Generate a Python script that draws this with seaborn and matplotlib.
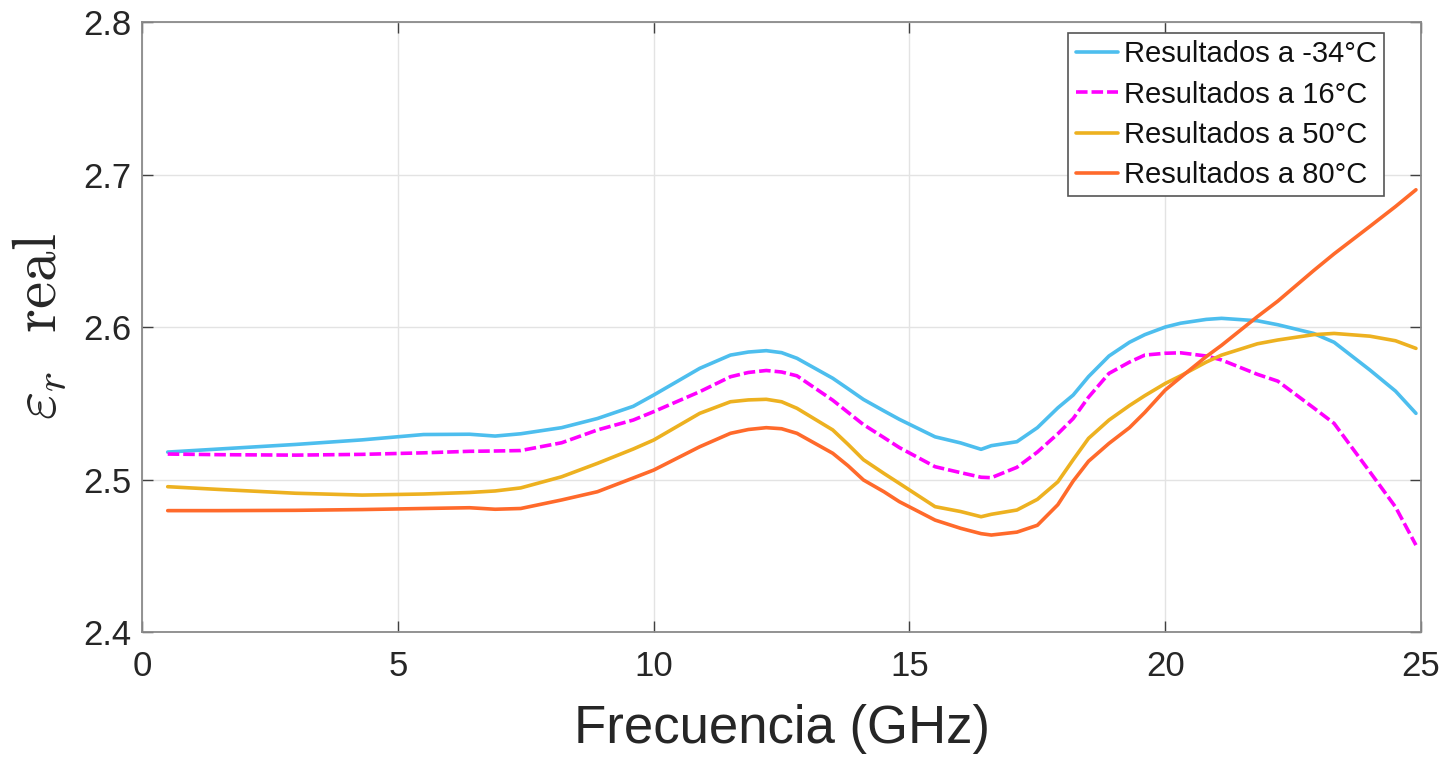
import numpy as np
import pandas as pd
import matplotlib
matplotlib.use('Agg')
import matplotlib.pyplot as plt
import seaborn as sns

# frequency points (GHz)
freq = [0.5, 1.5, 3.0, 4.3, 5.5, 6.4, 6.9, 7.4, 8.2, 8.9, 9.6, 10.0, 10.9, 11.5, 11.85,
        12.2, 12.5, 12.8, 13.5, 13.8, 14.1, 14.5, 14.8, 15.5, 16.0, 16.4, 16.6, 17.1,
        17.5, 17.9, 18.2, 18.5, 18.9, 19.3, 19.6, 20.0, 20.3, 20.8, 21.1, 21.8, 22.2,
        22.9, 23.3, 24.0, 24.5, 24.9]

er_m34 = [2.518, 2.520, 2.523, 2.526, 2.5295, 2.5297, 2.5285, 2.530, 2.534, 2.540, 2.548,
          2.5554, 2.5729, 2.5816, 2.5836, 2.5845, 2.5832, 2.5795, 2.5664, 2.5595, 2.5525,
          2.545, 2.5395, 2.528, 2.524, 2.5198, 2.5222, 2.5248, 2.534, 2.547, 2.5554,
          2.5675, 2.581, 2.590, 2.595, 2.600, 2.6025, 2.605, 2.6057, 2.6041, 2.6015,
          2.5958, 2.590, 2.5718, 2.558, 2.5434]

er_16 = [2.5167, 2.5163, 2.516, 2.5165, 2.5175, 2.5185, 2.5187, 2.519, 2.5241, 2.5325,
         2.539, 2.5445, 2.5576, 2.5674, 2.5702, 2.5715, 2.5705, 2.568, 2.552, 2.544,
         2.536, 2.5275, 2.521, 2.5084, 2.5045, 2.5015, 2.5012, 2.508, 2.518, 2.530,
         2.540, 2.554, 2.5696, 2.577, 2.5816, 2.5828, 2.5831, 2.581, 2.5784, 2.569,
         2.5645, 2.547, 2.5368, 2.505, 2.482, 2.457]

er_50 = [2.4953, 2.4935, 2.491, 2.4898, 2.4905, 2.4915, 2.4925, 2.4945, 2.5018, 2.5106,
         2.520, 2.5259, 2.5434, 2.551, 2.5522, 2.5526, 2.551, 2.5467, 2.5325, 2.523,
         2.513, 2.504, 2.4975, 2.4822, 2.479, 2.4756, 2.4772, 2.480, 2.487, 2.4985,
         2.513, 2.527, 2.539, 2.5485, 2.555, 2.563, 2.568, 2.577, 2.5816, 2.589,
         2.5915, 2.595, 2.5958, 2.594, 2.591, 2.586]

er_80 = [2.4796, 2.4796, 2.4798, 2.4803, 2.481, 2.4815, 2.4805, 2.481, 2.4866, 2.492,
         2.501, 2.5062, 2.5215, 2.5303, 2.5328, 2.534, 2.5333, 2.5303, 2.5172, 2.509,
         2.4997, 2.492, 2.4855, 2.4734, 2.468, 2.4645, 2.4636, 2.4655, 2.470, 2.4835,
         2.499, 2.512, 2.5237, 2.534, 2.544, 2.5587, 2.567, 2.5806, 2.588, 2.6068,
         2.617, 2.637, 2.648, 2.666, 2.679, 2.690]

labels = ['Resultados a -34°C', 'Resultados a 16°C', 'Resultados a 50°C', 'Resultados a 80°C']
series = [er_m34, er_16, er_50, er_80]

df = pd.concat([pd.DataFrame({'f': freq, 'er': s, 'serie': lab}) for s, lab in zip(series, labels)])

colors = dict(zip(labels, ['#4DBEEE', '#FF00FF', '#EDB120', '#FF6A2B']))
dashes = dict(zip(labels, ['', (3.2, 1.1), '', '']))

sns.set_theme(style='whitegrid')
plt.rcParams['font.family'] = ['Liberation Sans', 'DejaVu Sans']
plt.rcParams['mathtext.fontset'] = 'cm'

fig = plt.figure(figsize=(14.43, 7.57), dpi=100)
ax = fig.add_axes([0.0985, 0.1651, 0.8863, 0.8058])

sns.lineplot(data=df, x='f', y='er', hue='serie', style='serie', palette=colors,
             dashes=dashes, linewidth=2.6, ax=ax, sort=False)

ax.set_xlim(0, 25)
ax.set_ylim(2.4, 2.8)
ax.set_xticks([0, 5, 10, 15, 20, 25])
ax.set_yticks([2.4, 2.5, 2.6, 2.7, 2.8])
ax.set_yticklabels(['2.4', '2.5', '2.6', '2.7', '2.8'])

ax.grid(True, color='#e3e3e3', linewidth=1)
for sp in ax.spines.values():
    sp.set_color('#8a8a8a')
    sp.set_linewidth(1.3)
ax.tick_params(axis='both', which='both', direction='in', length=8, width=1,
               color='#404040', labelsize=25, labelcolor='#262626',
               top=True, right=True, bottom=True, left=True)
ax.tick_params(axis='x', pad=13)
ax.tick_params(axis='y', pad=8)

ax.set_xlabel('Frecuencia (GHz)', fontsize=38, color='#262626', labelpad=15)
ax.set_ylabel(r'$\varepsilon_r\ \ \mathrm{real}$', fontsize=44, color='#262626', labelpad=10)

leg = ax.legend(loc='upper right', bbox_to_anchor=(0.971, 0.982), fontsize=21,
                frameon=True, fancybox=False, handlelength=1.45, handletextpad=0.2,
                labelspacing=0.42, borderpad=0.25, borderaxespad=0.0, title=None)
leg.get_frame().set_edgecolor('#555555')
leg.get_frame().set_linewidth(1.2)
leg.get_frame().set_alpha(1)
for t in leg.get_texts():
    t.set_color('#111111')

fig.savefig('out.png', dpi=100)
